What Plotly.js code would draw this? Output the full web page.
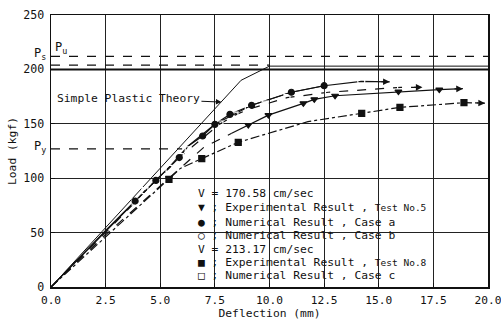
<!DOCTYPE html>
<html>
<head>
<meta charset="utf-8">
<script src="https://cdn.plot.ly/plotly-3.0.1.min.js"></script>
<style>html,body{margin:0;padding:0;background:#fff;}#chart{width:501px;height:322px;}</style>
</head>
<body>
<div id="chart"></div>
<script>
// ---- data ----
const xTickVals = [0, 2.5, 5, 7.5, 10, 12.5, 15, 17.5, 20];
const yTickVals = [0, 50, 100, 150, 200, 250];

const plasticX = [0, 8.7, 10.0, 20.0];
const plasticY = [0, 190, 203, 203];

const levelPu = 212;
const levelPs = 204;
const levelPy = 127;
const level200 = 200;
const psLineX = [0, 10];
const puLineX = [0, 20];
const pyLineX = [0, 6.0];

// Numerical result, case a (filled circle), solid
const caseALineX = [0, 2.5, 3.85, 4.8, 5.87, 6.28, 6.94, 7.5, 8.19, 9.18, 11.0, 12.5];
const caseALineY = [0, 51, 79, 98, 119, 129.6, 138.8, 149.5, 158.7, 167, 179, 185];
const caseAMarkX = [3.85, 4.8, 5.87, 6.94, 7.5, 8.19, 9.18, 11.0, 12.5];
const caseAMarkY = [79, 98, 119, 138.8, 149.5, 158.7, 167, 179, 185];

// Numerical result, case b (open circle), solid
const caseBLineX = [0, 2.5, 3.85, 5.4, 6.28, 7.5, 9.18, 11.0, 12.5, 14.2, 15.5];
const caseBLineY = [0, 52, 79, 110, 129.6, 149.5, 167, 179, 185, 189, 188.6];
const caseBMarkX = [14.2];
const caseBMarkY = [189];

// Numerical result, case c (open square), dashed
const caseCLineX = [0, 2.5, 3.85, 4.3, 5.4, 5.92, 6.28, 7.73, 8.42, 9.03, 9.8, 10.8, 12.7, 16.0, 17.0];
const caseCLineY = [0, 50, 78, 88.5, 109, 119.8, 126, 149.8, 158, 163.3, 168, 174, 179, 183.5, 183.5];
const caseCMarkX = [3.85, 4.3, 5.4, 5.92, 6.28, 7.73, 8.42, 9.03, 9.8, 10.8, 12.7, 16.0];
const caseCMarkY = [78, 88.5, 109, 119.8, 126, 149.8, 158, 163.3, 168, 174, 179, 183.5];

// Experimental result, Test No.5 (down triangle)
const test5DashX = [0, 2.5, 5.4, 7.0, 8.27];
const test5DashY = [0, 48, 100, 128.5, 141.3];
const test5SolidX = [8.27, 9.03, 9.95, 11.55, 12.05, 13.0, 15.9, 17.77, 18.85];
const test5SolidY = [141.3, 148.9, 158, 168.8, 172.5, 175.8, 179.6, 181.5, 182.3];
const test5MarkX = [5.4, 9.03, 9.95, 11.55, 12.05, 13.0, 15.9, 17.77];
const test5MarkY = [100, 148.9, 158, 168.8, 172.5, 175.8, 179.6, 181.5];

// Experimental result, Test No.8 (filled square), dash-dot
const test8LineX = [0, 2.5, 5.4, 5.92, 6.9, 8.57, 11.76, 14.22, 15.97, 18.9, 19.86];
const test8LineY = [0, 46, 99, 109, 118, 133, 152, 159.6, 165.1, 169.4, 169];
const test8MarkX = [5.4, 6.9, 8.57, 14.22, 15.97, 18.9];
const test8MarkY = [99, 118, 133, 159.6, 165.1, 169.4];

// Simple plastic theory label pointer target
const plasticLabelX = [7.8];
const plasticLabelY = [170];

const legendLines = [
  "V = 170.58 cm/sec",
  "▼ ; Experimental Result , <span style='font-size:9.5px'>Test No.5</span>",
  "● ; Numerical Result , Case a",
  "○ ; Numerical Result , Case b",
  "V = 213.17 cm/sec",
  "■ ; Experimental Result , <span style='font-size:9.5px'>Test No.8</span>",
  "□ ; Numerical Result , Case c"
];

// ---- drawing ----
const FONT = "DejaVu Sans Mono, monospace";
const BLACK = "#111";
const LW = 1.2;

function lineTrace(x, y, dash, w) {
  return {x: x, y: y, mode: "lines", type: "scatter", hoverinfo: "skip",
          line: {color: BLACK, width: w || LW, dash: dash || "solid"}, showlegend: false};
}
function markTrace(x, y, symbol, size) {
  return {x: x, y: y, mode: "markers", type: "scatter", hoverinfo: "skip", showlegend: false,
          marker: {symbol: symbol, size: size || 6, color: symbol.indexOf("open") >= 0 ? "#fff" : BLACK,
                   line: {color: BLACK, width: 1.2}}};
}

const traces = [
  lineTrace(plasticX, plasticY, "solid", 1),
  lineTrace(psLineX, [levelPs, levelPs], "dash", 1.2),
  lineTrace(puLineX, [levelPu, levelPu], "dash", 1.2),
  lineTrace(pyLineX, [levelPy, levelPy], "dash", 1.2),
  lineTrace(puLineX, [level200, level200], "solid", 2),
  lineTrace(caseALineX, caseALineY, "solid"),
  lineTrace(caseBLineX, caseBLineY, "solid"),
  lineTrace(caseCLineX, caseCLineY, "dash"),
  lineTrace(test5DashX, test5DashY, "dash"),
  lineTrace(test5SolidX, test5SolidY, "solid"),
  lineTrace(test8LineX, test8LineY, "dashdot"),
  markTrace(caseCMarkX, caseCMarkY, "square-open", 6),
  markTrace(caseAMarkX, caseAMarkY, "circle", 6),
  markTrace(caseBMarkX, caseBMarkY, "circle-open", 7),
  markTrace(test5MarkX, test5MarkY, "triangle-down", 6),
  markTrace(test8MarkX, test8MarkY, "square", 6)
];

function endArrow(xs, ys) {
  const n = xs.length;
  const tx = xs[n - 1], ty = ys[n - 1];
  const px = xs[n - 2], py = ys[n - 2];
  const t = Math.min(1, 0.45 / (tx - px));
  return {x: tx, y: ty, xref: "x", yref: "y", axref: "x", ayref: "y",
          ax: tx - t * (tx - px), ay: ty - t * (ty - py),
          text: "", showarrow: true, arrowhead: 2, arrowsize: 1.1, arrowwidth: 1.2, arrowcolor: BLACK};
}

const annotations = [
  endArrow(caseBLineX, caseBLineY),
  endArrow(caseCLineX, caseCLineY),
  endArrow(test5SolidX, test5SolidY),
  endArrow(test8LineX, test8LineY),
  {x: plasticLabelX[0], y: plasticLabelY[0], xref: "x", yref: "y", ax: -93, ay: -4,
   text: "Simple Plastic Theory", showarrow: true, arrowhead: 2, arrowsize: 1, arrowwidth: 1.1,
   arrowcolor: BLACK, font: {family: FONT, size: 11.3, color: BLACK}, standoff: 0},
  {x: 0.005, y: (287 - 48) / 272, xref: "paper", yref: "paper", xanchor: "left", yanchor: "middle",
   text: "P<sub>u</sub>", showarrow: false, font: {family: FONT, size: 12, color: BLACK}},
  {x: -0.006, y: levelPs + 10, xref: "paper", yref: "y", xanchor: "right", yanchor: "middle",
   text: "P<sub>s</sub>", showarrow: false, font: {family: FONT, size: 12, color: BLACK}},
  {x: -0.006, y: levelPy + 2, xref: "paper", yref: "y", xanchor: "right", yanchor: "middle",
   text: "P<sub>y</sub>", showarrow: false, font: {family: FONT, size: 12, color: BLACK}}
];

const legendY = [193, 208, 222, 235, 249, 262, 275];
legendLines.forEach(function (t, i) {
  annotations.push({x: (196 - 51) / 437, y: (287 - legendY[i]) / 272, xref: "paper", yref: "paper",
    xanchor: "left", yanchor: "middle", text: t, showarrow: false,
    font: {family: FONT, size: 11.3, color: BLACK}});
});

const layout = {
  width: 501, height: 322,
  margin: {l: 51, r: 13, t: 15, b: 35},
  paper_bgcolor: "#fff", plot_bgcolor: "#fff",
  showlegend: false,
  font: {family: FONT, size: 12, color: BLACK},
  xaxis: {range: [0, 20], tickvals: xTickVals, tickformat: ".1f",
          showgrid: true, gridcolor: "#222", gridwidth: 1, zeroline: false,
          showline: true, linecolor: BLACK, linewidth: 1.5, mirror: true,
          ticks: "inside", ticklen: 4, tickcolor: BLACK, ticklabelstandoff: 2,
          ticklabeloverflow: "allow",
          tickfont: {family: FONT, size: 11.2, color: BLACK},
          title: {text: "Deflection (mm)", font: {family: FONT, size: 11.3, color: BLACK}, standoff: 2}},
  yaxis: {range: [0, 250], tickvals: yTickVals,
          showgrid: true, gridcolor: "#222", gridwidth: 1, zeroline: false,
          showline: true, linecolor: BLACK, linewidth: 1.5, mirror: true,
          ticks: "inside", ticklen: 4, tickcolor: BLACK, ticklabelstandoff: 3,
          tickfont: {family: FONT, size: 11.6, color: BLACK},
          title: {text: "Load (kgf)", font: {family: FONT, size: 11.3, color: BLACK}, standoff: 4}},
  shapes: [
    {type: "rect", xref: "paper", yref: "paper", layer: "between",
     x0: (192 - 51) / 437, x1: (466 - 51) / 437, y0: (287 - 284) / 272, y1: (287 - 186) / 272,
     fillcolor: "#fff", line: {width: 0}}
  ],
  annotations: annotations
};

Plotly.newPlot("chart", traces, layout, {staticPlot: true, displayModeBar: false});
</script>
</body>
</html>
